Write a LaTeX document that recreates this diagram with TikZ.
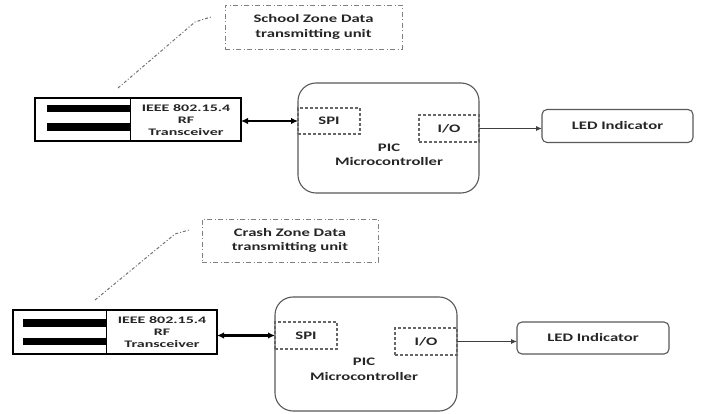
\documentclass[tikz,border=0pt]{standalone}
\usepackage{fontspec}
\setmainfont{Carlito}
\newfontfamily\lblfont[FakeStretch=1.45]{Carlito}
\newfontfamily\smallfont[FakeStretch=1.6]{Carlito}
\usetikzlibrary{arrows.meta}
\begin{document}
\begin{tikzpicture}[x=1pt,y=-1pt,
  every node/.style={inner sep=0pt,outer sep=0pt},
  lbl/.style={font=\lblfont\bfseries\fontsize{11.5}{14.5}\selectfont, text=black!85, align=center},
  smalllbl/.style={font=\smallfont\bfseries\fontsize{10}{12}\selectfont, text=black!85, align=center},
  zonebox/.style={draw=black!50, line width=0.8pt, dash pattern=on 5pt off 2.5pt on 1pt off 2.5pt, lbl},
  leader/.style={draw=black!55, line width=1pt, dash pattern=on 3pt off 2pt on 1pt off 2pt},
  rfbox/.style={draw=black, line width=2.2pt},
  rfbar/.style={fill=black, draw=none},
  picbox/.style={draw=black!65, line width=1.1pt, rounded corners=18pt},
  portbox/.style={draw=black!60, line width=1.2pt, dash pattern=on 3pt off 2pt, lbl},
  ledbox/.style={draw=black!65, line width=1.1pt, rounded corners=5pt, lbl},
  busarrow/.style={line width=2.4pt, {Latex[length=7pt,width=6.5pt]}-{Latex[length=7pt,width=6.5pt]}},
  outarrow/.style={draw=black!75, line width=0.9pt, -{Latex[length=6pt,width=5pt]}}
]
\useasboundingbox (0,0) rectangle (702,414);
\fill[white] (0,0) rectangle (702,414);

% ---------- top unit ----------
\node[zonebox, minimum width=177pt, minimum height=44pt] (school) at (313.5,27) {School Zone Data\\transmitting unit};
\coordinate (l1a) at (118,88);
\coordinate (l1b) at (195,22);
\coordinate (l1c) at (211,17);
\draw[leader] (l1a) -- (l1b) -- (l1c);

\node[rfbox, minimum width=206pt, minimum height=43pt] (rf1) at (138,119.5) {};
\coordinate (d1t) at (130,98);
\coordinate (d1b) at (130,141);
\draw[black, line width=0.8pt] (d1t) -- (d1b);
\fill[rfbar] (47,105.5) rectangle (130,112.5);
\fill[rfbar] (47,123.5) rectangle (130,131);
\node[smalllbl] (rf1t) at (186,120) {IEEE 802.15.4\\RF\\Transceiver};

\node[picbox, minimum width=181pt, minimum height=110pt] (pic1) at (388.5,138) {};
\node[portbox, minimum width=62pt, minimum height=26pt] (spi1) at (329,121) {SPI};
\node[portbox, minimum width=60pt, minimum height=27pt] (io1) at (449,128.5) {I/O};
\node[lbl] (pic1t) at (389,155) {PIC\\Microcontroller};
\node[ledbox, minimum width=151pt, minimum height=33pt] (led1) at (617.5,126) {LED Indicator};

\draw[busarrow] (spi1.west -| rf1.east) -- (spi1.west);
\draw[outarrow] (io1.east) -- (io1.east -| led1.west);

% ---------- bottom unit ----------
\node[zonebox, minimum width=176pt, minimum height=43pt] (crash) at (290,240.5) {Crash Zone Data\\transmitting unit};
\coordinate (l2a) at (95,300);
\coordinate (l2b) at (175,234);
\coordinate (l2c) at (189,230);
\draw[leader] (l2a) -- (l2b) -- (l2c);

\node[rfbox, minimum width=204pt, minimum height=44pt] (rf2) at (115,332) {};
\coordinate (d2t) at (106,310);
\coordinate (d2b) at (106,354);
\draw[black, line width=0.8pt] (d2t) -- (d2b);
\fill[rfbar] (23,319) rectangle (106,327);
\fill[rfbar] (23,338) rectangle (106,345);
\node[smalllbl] (rf2t) at (162,332.5) {IEEE 802.15.4\\RF\\Transceiver};

\node[picbox, minimum width=182pt, minimum height=114pt] (pic2) at (366,354) {};
\node[portbox, minimum width=62pt, minimum height=27pt] (spi2) at (306,335.5) {SPI};
\node[portbox, minimum width=62pt, minimum height=27pt] (io2) at (426,341.5) {I/O};
\node[lbl] (pic2t) at (364,369.5) {PIC\\Microcontroller};
\node[ledbox, minimum width=152pt, minimum height=32pt] (led2) at (593,338) {LED Indicator};

\draw[busarrow] (spi2.west -| rf2.east) -- (spi2.west);
\draw[outarrow] (io2.east) -- (io2.east -| led2.west);
\end{tikzpicture}
\end{document}
